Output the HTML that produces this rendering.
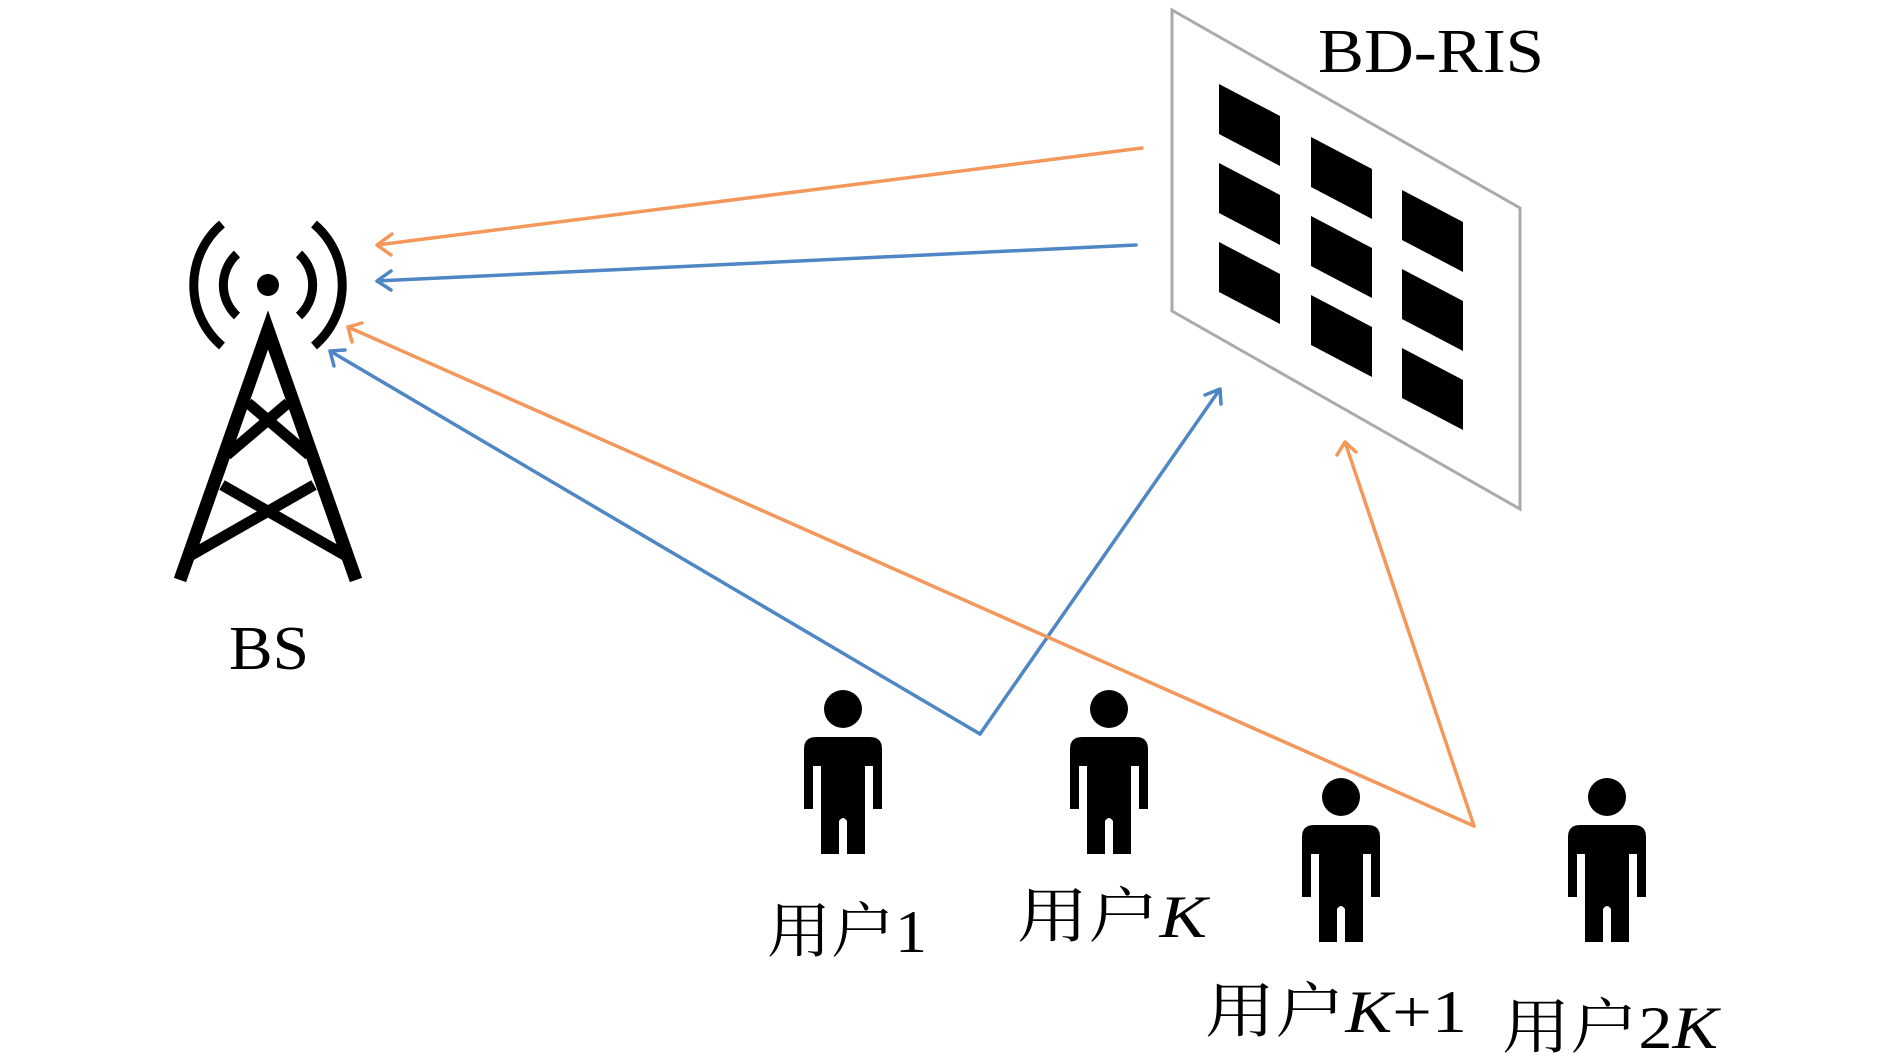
<!DOCTYPE html>
<html><head><meta charset="utf-8"><style>
html,body{margin:0;padding:0;background:#fff;width:1890px;height:1058px;overflow:hidden}
text{font-family:"Liberation Serif","Noto Serif CJK SC",serif;fill:#000}
</style></head><body>
<svg width="1890" height="1058" viewBox="0 0 1890 1058" xmlns="http://www.w3.org/2000/svg">
<defs>
<g id="person">
 <circle cx="0" cy="0" r="19"/>
 <path d="M-39,40 Q-39,28 -27,28 L27,28 Q39,28 39,40 L39,100 L30,100 L30,57 L22,57 L22,145 L4,145 L4,112 Q0,106 -4,112 L-4,145 L-22,145 L-22,57 L-30,57 L-30,100 L-39,100 Z"/>
</g>
<polygon id="tile" points="0,0 61,32 61,82 0,50"/>
</defs>
<!-- RIS panel -->
<polygon points="1172,10 1520,208 1520,509 1172,311" fill="#fff" stroke="#aaa" stroke-width="3"/>
<g fill="#000">
 <use href="#tile" x="1219" y="84"/>
 <use href="#tile" x="1219" y="163"/>
 <use href="#tile" x="1219" y="242"/>
 <use href="#tile" x="1311" y="137"/>
 <use href="#tile" x="1311" y="216"/>
 <use href="#tile" x="1311" y="295"/>
 <use href="#tile" x="1402" y="190"/>
 <use href="#tile" x="1402" y="269"/>
 <use href="#tile" x="1402" y="348"/>
</g>
<text x="1318" y="72" font-size="62" textLength="226" lengthAdjust="spacingAndGlyphs">BD-RIS</text>
<!-- tower -->
<g fill="none" stroke="#000" stroke-linecap="butt">
 <circle cx="268" cy="285" r="11" fill="#000" stroke="none"/>
 <path d="M237,254 A42,42 0 0 0 237,316" stroke-width="9"/>
 <path d="M299,254 A42,42 0 0 1 299,316" stroke-width="9"/>
 <path d="M222,224 A80,80 0 0 0 222,346" stroke-width="9"/>
 <path d="M314,224 A80,80 0 0 1 314,346" stroke-width="9"/>
 <path d="M180,580 L268,330 L356,580" stroke-width="13" stroke-linejoin="miter"/>
 <path d="M248,403 L309,455 M288,403 L227,455 M222,485 L348,557 M314,485 L188,557" stroke-width="11"/>
</g>
<text x="229" y="669" font-size="62" textLength="80" lengthAdjust="spacingAndGlyphs">BS</text>
<!-- arrows -->
<g fill="none" stroke-width="3.5" stroke-linecap="round" stroke-linejoin="round">
 <path d="M1142,148 L377,245 M392,234 L377,245 L391,255" stroke="#f4975a"/>
 <path d="M1136,245 L377,281 M391,271 L377,281 L391,290" stroke="#4f86c4"/>
 <path d="M980,734 L330,351 M334,366 L330,351 L345,350" stroke="#4f86c4"/>
 <path d="M980,734 L1220,389 M1205,395 L1220,389 L1221,404" stroke="#4f86c4"/>
 <path d="M1474,826 L348,327 M352,342 L348,327 L362,323" stroke="#f4975a"/>
 <path d="M1474,826 L1345,442 M1337,455 L1345,442 L1356,452" stroke="#f4975a"/>
</g>
<!-- persons -->
<use href="#person" x="843" y="709"/>
<use href="#person" x="1109" y="709"/>
<use href="#person" x="1341" y="797"/>
<use href="#person" x="1607" y="797"/>
<!-- labels -->
<text x="767" y="952" font-size="60" textLength="160" lengthAdjust="spacingAndGlyphs">用户1</text>
<text x="1017" y="937" font-size="60" textLength="190" lengthAdjust="spacingAndGlyphs">用户<tspan font-style="italic">K</tspan></text>
<text x="1205" y="1032" font-size="60" textLength="262" lengthAdjust="spacingAndGlyphs">用户<tspan font-style="italic">K</tspan>+1</text>
<text x="1502" y="1048" font-size="60" textLength="216" lengthAdjust="spacingAndGlyphs">用户2<tspan font-style="italic">K</tspan></text>
</svg>
</body></html>
